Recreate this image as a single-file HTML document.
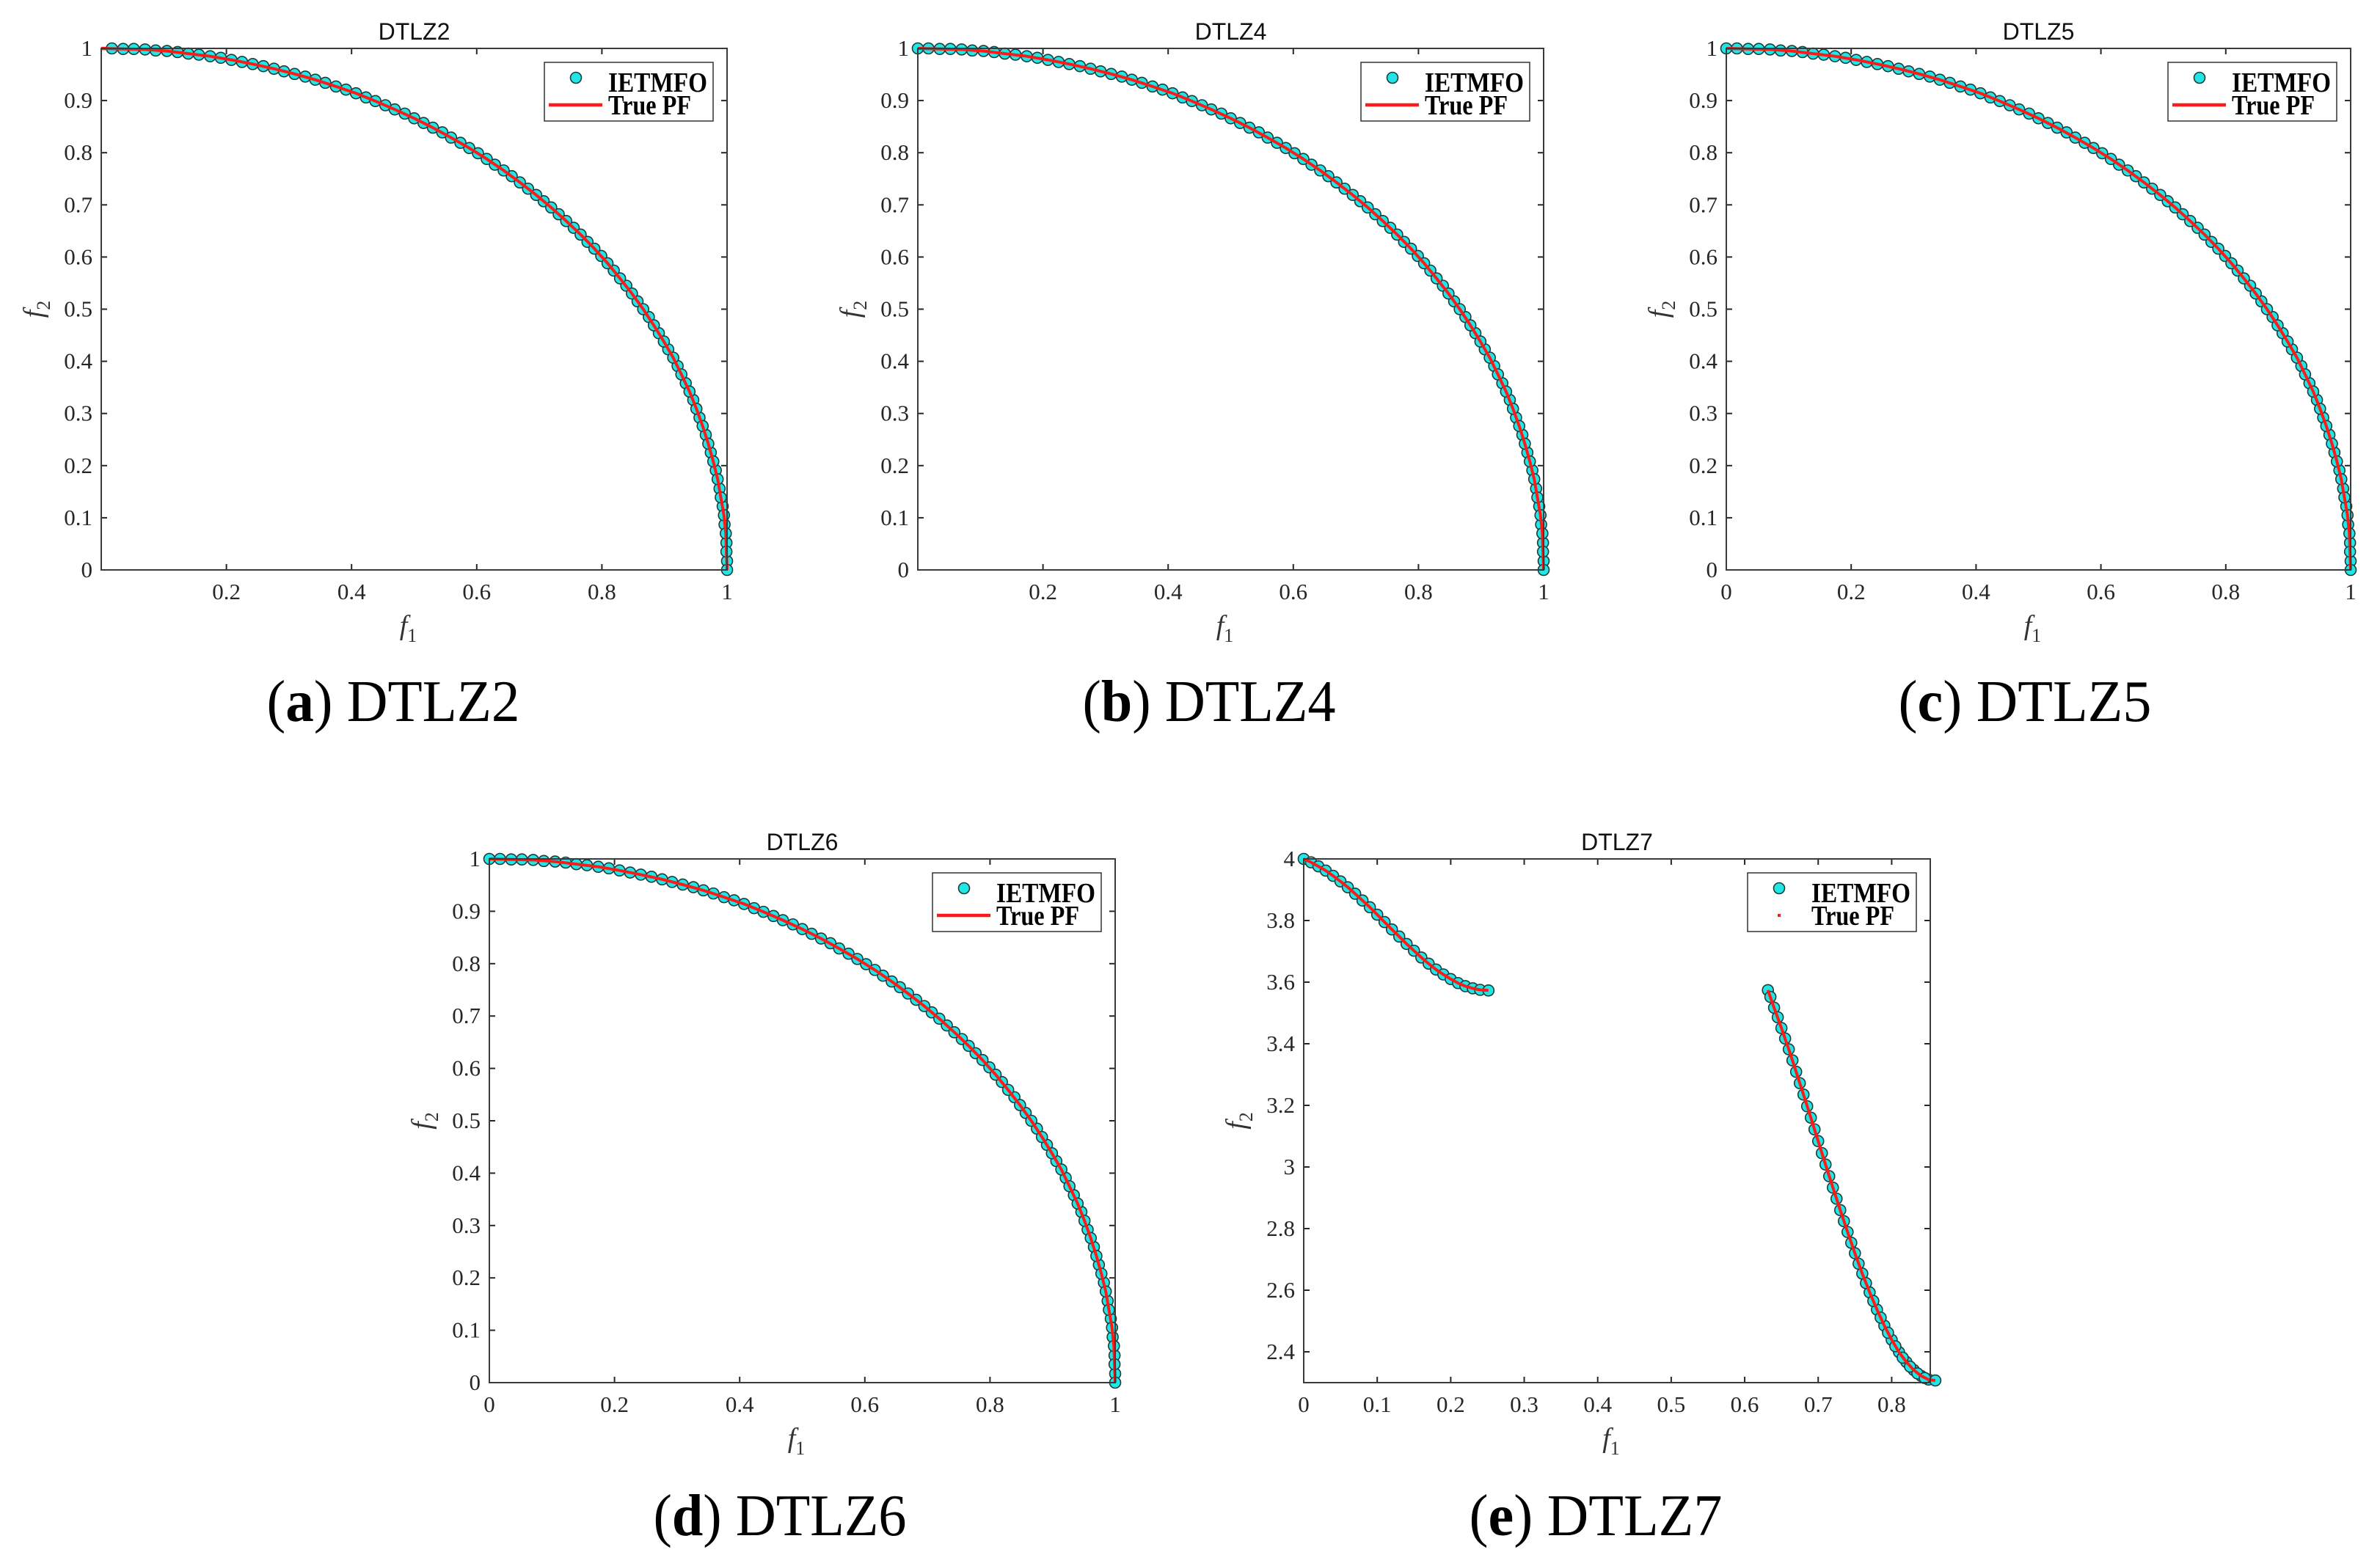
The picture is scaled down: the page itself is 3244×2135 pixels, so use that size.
<!DOCTYPE html>
<html><head><meta charset="utf-8">
<style>
html,body{margin:0;padding:0;background:#fff;}
svg{display:block;}
text{font-family:"Liberation Serif",serif;}
</style></head>
<body>
<svg id="fig" xmlns="http://www.w3.org/2000/svg" width="3244" height="2135" viewBox="0 0 3244 2135">
<rect x="0" y="0" width="3244" height="2135" fill="#fff"/>
</svg>
<script>
// ---- data: quarter-circle Pareto front samples (f1, f2) ----
const evenF1 = [0,.035,.070,.105,.139,.174,.208,.242,.276,.309,.342,.375,.407,.438,.469,.500,.530,.559,.588,.616,.643,.669,.695,.719,.743,.766,.788,.809,.829,.848,.866,.883,.899,.914,.927,.940,.951,.961,.970,.978,.985,.990,.995,.998,.999,1];
const evenF2 = [1,.999,.998,.995,.990,.985,.978,.970,.961,.951,.940,.927,.914,.899,.883,.866,.848,.829,.809,.788,.766,.743,.719,.695,.669,.643,.616,.588,.559,.530,.500,.469,.438,.407,.375,.342,.309,.276,.242,.208,.174,.139,.105,.070,.035,0];
const oddF1 = [.017,.052,.087,.122,.156,.191,.225,.259,.292,.326,.358,.391,.423,.454,.485,.515,.545,.574,.602,.629,.656,.682,.707,.731,.755,.777,.799,.819,.839,.857,.875,.891,.906,.921,.934,.946,.956,.966,.974,.982,.988,.993,.996,.999,1.000];
const oddF2 = [1.000,.999,.996,.993,.988,.982,.974,.966,.956,.946,.934,.921,.906,.891,.875,.857,.839,.819,.799,.777,.755,.731,.707,.682,.656,.629,.602,.574,.545,.515,.485,.454,.423,.391,.358,.326,.292,.259,.225,.191,.156,.122,.087,.052,.017];
// ---- data: DTLZ7 front ----
const d7seg1F1 = [0,.01,.02,.03,.04,.05,.06,.07,.08,.09,.10,.11,.12,.13,.14,.15,.16,.17,.18,.19,.20,.21,.22,.23,.24,.2514];
const d7seg1F2 = [4,3.989,3.976,3.962,3.945,3.927,3.908,3.887,3.865,3.843,3.819,3.795,3.771,3.748,3.724,3.702,3.680,3.660,3.641,3.625,3.610,3.597,3.587,3.580,3.575,3.573];
const d7seg2F1 = [.6316,.64,.65,.66,.67,.68,.69,.70,.71,.72,.73,.74,.75,.76,.77,.78,.79,.80,.81,.82,.83,.84,.85,.8594];
const d7seg2F2 = [3.574,3.517,3.451,3.382,3.309,3.235,3.160,3.084,3.008,2.933,2.860,2.789,2.720,2.654,2.593,2.537,2.485,2.439,2.399,2.367,2.341,2.322,2.310,2.307];
const d7seg2bF1 = [.635,.645,.655,.665,.675,.685,.695,.705,.715,.725,.735,.745,.755,.765,.775,.785,.795,.805,.815,.825,.835,.845];
const d7seg2bF2 = [3.552,3.486,3.417,3.346,3.272,3.197,3.122,3.045,2.970,2.897,2.824,2.754,2.686,2.623,2.565,2.511,2.462,2.418,2.381,2.352,2.330,2.315];
const unitTicks = [0,0.1,0.2,0.3,0.4,0.5,0.6,0.7,0.8,0.9,1];
const unitXTicks = [0,0.2,0.4,0.6,0.8,1];
const d7XTicks = [0,0.1,0.2,0.3,0.4,0.5,0.6,0.7,0.8];
const d7YTicks = [2.4,2.6,2.8,3,3.2,3.4,3.6,3.8,4];

const NS = "http://www.w3.org/2000/svg";
const fig = document.getElementById('fig');
function mk(tag, attrs, parent){
  const e = document.createElementNS(NS, tag);
  for (const k in attrs) e.setAttribute(k, attrs[k]);
  (parent||fig).appendChild(e);
  return e;
}
function fmt(v){ return String(Math.round(v*10)/10); }

const panels = [
  {id:'dtlz2', L:138, R:991, T:66, B:777, xmin:0, xmax:1, ymin:0, ymax:1, xt:unitXTicks.filter(v=>v>0), yt:unitTicks,
   title:'DTLZ2', letter:'a', cx:536, cy:983, pts:[[oddF1,oddF2],[evenF1.slice(1),evenF2.slice(1)]], pf:[[evenF1,evenF2]], dotLegend:false},
  {id:'dtlz4', L:1251, R:2104, T:66, B:777, xmin:0, xmax:1, ymin:0, ymax:1, xt:unitXTicks.filter(v=>v>0), yt:unitTicks,
   title:'DTLZ4', letter:'b', cx:1648, cy:983, pts:[[oddF1,oddF2],[evenF1,evenF2]], pf:[[evenF1,evenF2]], dotLegend:false},
  {id:'dtlz5', L:2353, R:3204, T:66, B:777, xmin:0, xmax:1, ymin:0, ymax:1, xt:unitXTicks, yt:unitTicks,
   title:'DTLZ5', letter:'c', cx:2760, cy:983, pts:[[oddF1,oddF2],[evenF1,evenF2]], pf:[[evenF1,evenF2]], dotLegend:false},
  {id:'dtlz6', L:667, R:1520, T:1171, B:1885, xmin:0, xmax:1, ymin:0, ymax:1, xt:unitXTicks, yt:unitTicks,
   title:'DTLZ6', letter:'d', cx:1063, cy:2093, pts:[[oddF1,oddF2],[evenF1,evenF2]], pf:[[evenF1,evenF2]], dotLegend:false},
  {id:'dtlz7', L:1777, R:2631, T:1171, B:1885, xmin:0, xmax:0.8525, ymin:2.3, ymax:4, xt:d7XTicks, yt:d7YTicks,
   title:'DTLZ7', letter:'e', cx:2175, cy:2093, pts:[[d7seg1F1,d7seg1F2],[d7seg2F1,d7seg2F2],[d7seg2bF1,d7seg2bF2]], pf:[[d7seg1F1,d7seg1F2],[d7seg2F1,d7seg2F2]], dotLegend:true}
];

panels.forEach(p=>{
  const g = mk('g', {});
  
  
  const sx = v => p.L + (v - p.xmin)/(p.xmax - p.xmin)*(p.R - p.L);
  const sy = v => p.B - (v - p.ymin)/(p.ymax - p.ymin)*(p.B - p.T);
  const ax = '#262626';
  p.xt.forEach(v=>{
    const x = sx(v);
    const t1 = mk('line',{x1:x,y1:p.B,x2:x,y2:p.B-8,stroke:ax,'stroke-width':2},g);
     
    mk('line',{x1:x,y1:p.T,x2:x,y2:p.T+8,stroke:ax,'stroke-width':2},g);
    const lb = mk('text',{x:x,y:p.B+40,'text-anchor':'middle','font-size':31,fill:ax},g);
    lb.textContent = fmt(v);
     
  });
  p.yt.forEach(v=>{
    const y = sy(v);
    mk('line',{x1:p.L,y1:y,x2:p.L+8,y2:y,stroke:ax,'stroke-width':2},g);
    mk('line',{x1:p.R,y1:y,x2:p.R-8,y2:y,stroke:ax,'stroke-width':2},g);
    const lb = mk('text',{x:p.L-12,y:y+10,'text-anchor':'end','font-size':31,fill:ax},g);
    lb.textContent = fmt(v);
     
  });
  p.pf.forEach(([xs,ys])=>{
    const d = xs.map((v,i)=>(i?'L':'M')+sx(v).toFixed(1)+' '+sy(ys[i]).toFixed(1)).join(' ');
    const pl = mk('path',{d:d,fill:'none',stroke:'#ff1a1a','stroke-width':4.5,'stroke-linejoin':'round'},g);
     
  });
  p.pts.forEach(([xs,ys])=>{
    xs.forEach((v,i)=>{
      const c = mk('circle',{cx:sx(v),cy:sy(ys[i]),r:7.5,fill:'#22e6e6',stroke:'#1c3c3c','stroke-width':1.6},g);
       
    });
  });
  p.pf.forEach(([xs,ys])=>{
    const d = xs.map((v,i)=>(i?'L':'M')+sx(v).toFixed(1)+' '+sy(ys[i]).toFixed(1)).join(' ');
    mk('path',{d:d,fill:'none',stroke:'#ff1a1a','stroke-width':4,'stroke-linejoin':'round'},g);
  });
  const box = mk('rect',{x:p.L,y:p.T,width:p.R-p.L,height:p.B-p.T,fill:'none',stroke:'#3a3a3a','stroke-width':2},g);
   
  const tt = mk('text',{x:(p.L+p.R)/2,y:p.T-12,'text-anchor':'middle','font-size':32,fill:'#111',style:'font-family:"Liberation Sans",sans-serif'},g);
  tt.textContent = p.title;
   
  const xl = mk('text',{x:(p.L+p.R)/2-8,y:p.B+88,'text-anchor':'middle','font-size':38,'font-style':'italic',fill:'#333'},g);
  xl.innerHTML = 'f<tspan font-style="normal" font-size="26" dy="10">1</tspan>';
   
  const ylx = p.L - 80, yly = (p.T+p.B)/2;
  const yl = mk('text',{x:ylx,y:yly,'text-anchor':'middle','font-size':38,'font-style':'italic',fill:'#333',transform:`rotate(-90 ${ylx} ${yly})`},g);
  yl.innerHTML = 'f<tspan font-style="normal" font-size="26" dy="10">2</tspan>';
   
  const lw = 230, lh = 80, lx = p.R - 19 - lw, ly = p.T + 19;
  const lg = mk('g',{},g);
   
  mk('rect',{x:lx,y:ly,width:lw,height:lh,fill:'#fff',stroke:'#333','stroke-width':1.5},lg);
  const m1 = mk('circle',{cx:lx+43,cy:ly+21,r:7.5,fill:'#22e6e6',stroke:'#1c3c3c','stroke-width':1.6},lg);
   
  if (p.dotLegend){
    mk('rect',{x:lx+41,y:ly+56,width:4,height:4,fill:'#ff1a1a'},lg);
  } else {
    mk('line',{x1:lx+6,y1:ly+58,x2:lx+79,y2:ly+58,stroke:'#ff1a1a','stroke-width':4.5},lg);
  }
  const t1 = mk('text',{x:lx+87,y:ly+40,'font-size':38,'font-weight':'bold',fill:'#000',textLength:135,lengthAdjust:'spacingAndGlyphs'},lg);
  t1.textContent = 'IETMFO';
   
  const t2 = mk('text',{x:lx+87,y:ly+71,'font-size':38,'font-weight':'bold',fill:'#000',textLength:113,lengthAdjust:'spacingAndGlyphs'},lg);
  t2.textContent = 'True PF';
   
  const cap = mk('text',{x:p.cx,y:p.cy,'text-anchor':'middle','font-size':80,fill:'#000',textLength:345,lengthAdjust:'spacingAndGlyphs'});
  cap.innerHTML = '(<tspan font-weight="bold">'+p.letter+'</tspan>) '+p.title;
   
});
</script>
</body></html>
